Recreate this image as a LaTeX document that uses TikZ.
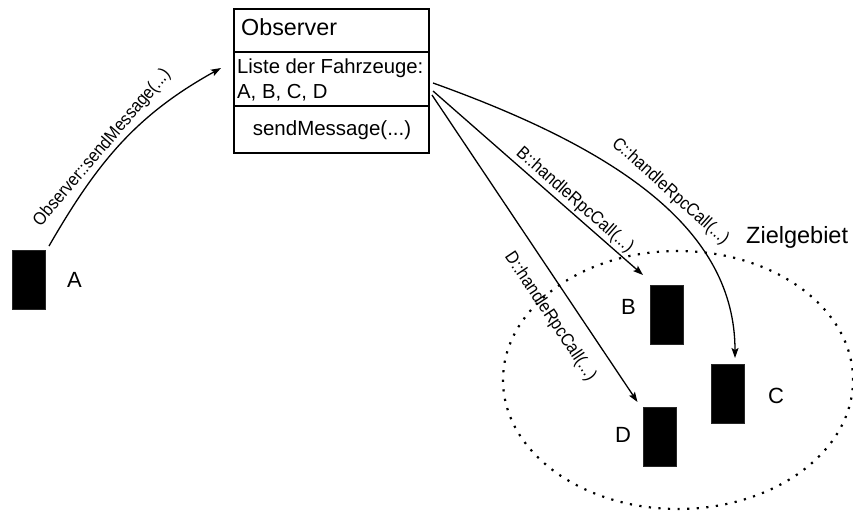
\documentclass[tikz,border=0pt]{standalone}
\usepackage{fontspec}
\setmainfont{Liberation Sans}
\usetikzlibrary{shapes.geometric,arrows.meta,calc}
\newcommand{\condensed}[1]{\scalebox{0.9}[1]{#1}}
\begin{document}
\begin{tikzpicture}[x=1pt,y=1pt,
  veh/.style={fill=black, draw=black!85, line width=0.5pt, minimum width=33pt, minimum height=59pt, inner sep=0, outer sep=0},
  arr/.style={line width=1.3pt, -{Stealth[length=10pt,width=7pt,inset=2pt]}},
  elab/.style={font=\fontsize{18}{18}\selectfont, sloped, inner sep=2pt},
  vlab/.style={font=\fontsize{22}{22}\selectfont, inner sep=0, anchor=base west},
  btxt/.style={font=\fontsize{20.3}{24}\selectfont, inner sep=0, anchor=base west},
  ]
\useasboundingbox (0,0) rectangle (853,-512);

% target area
\node[ellipse, draw, line width=2.2pt, dash pattern=on 2.2pt off 7.4pt,
      minimum width=350pt, minimum height=258pt, inner sep=0] (zone) at (678,-380) {};
\node[vlab, font=\fontsize{23.5}{23.5}\selectfont] (zlab) at (746,-243) {Zielgebiet};

% observer box
\node[draw, line width=2pt, minimum width=195pt, minimum height=144pt, anchor=north west, inner sep=0, outer sep=0] (obs) at (234,-9) {};
\draw[line width=2.5pt] ($(obs.north west)+(0,-43)$) coordinate (s1l) -- ($(obs.north east)+(0,-43)$) coordinate (s1r);
\draw[line width=1.6pt] ($(obs.north west)+(0,-97)$) coordinate (s2l) -- ($(obs.north east)+(0,-97)$) coordinate (s2r);
\node[vlab, font=\fontsize{23.3}{23.3}\selectfont] (title) at (241,-35) {Observer};
\node[btxt] (attr1) at (237,-73.5) {Liste der Fahrzeuge:};
\node[btxt] (attr2) at (237,-98) {A, B, C, D};
\node[font=\fontsize{20.5}{24}\selectfont, inner sep=0, anchor=base] (meth) at (332,-135) {sendMessage(...)};

% vehicles
\node[veh] (A) at (29,-279.5) {};
\node[veh] (B) at (667,-314.5) {};
\node[veh] (C) at (727.5,-393.5) {};
\node[veh] (D) at (660,-437) {};
\node[vlab] (la) at (67,-287) {A};
\node[vlab] (lb) at (621,-314) {B};
\node[vlab] (lc) at (768,-403) {C};
\node[vlab] (ld) at (615,-442) {D};

% arrows
\draw[arr] ($(A.north east)+(3.5,4)$) to[out=60,in=209]
  node[elab, above, pos=0.43] {\condensed{Observer::sendMessage(...)}}
  ($(obs.north west)+(-13,-59)$);

\draw[arr] ($(obs.north east)+(4,-82)$) --
  node[elab, above, pos=0.64] {\condensed{B::handleRpcCall(...)}}
  ($(B.north west)+(-7.5,10)$);

\draw[arr] ($(obs.north east)+(4,-74)$) .. controls ($(obs.north east)+(191,-141)$) and ($(C.north)+(7.5,134)$) ..
  node[elab, above=4pt, pos=0.52] {\condensed{C::handleRpcCall(...)}}
  ($(C.north)+(7.5,6)$);

\draw[arr] ($(obs.north east)+(3,-86)$) --
  node[elab, below=14pt, pos=0.676] {\condensed{D::handleRpcCall(...)}}
  ($(D.north west)+(-6,5.5)$);
\end{tikzpicture}
\end{document}
